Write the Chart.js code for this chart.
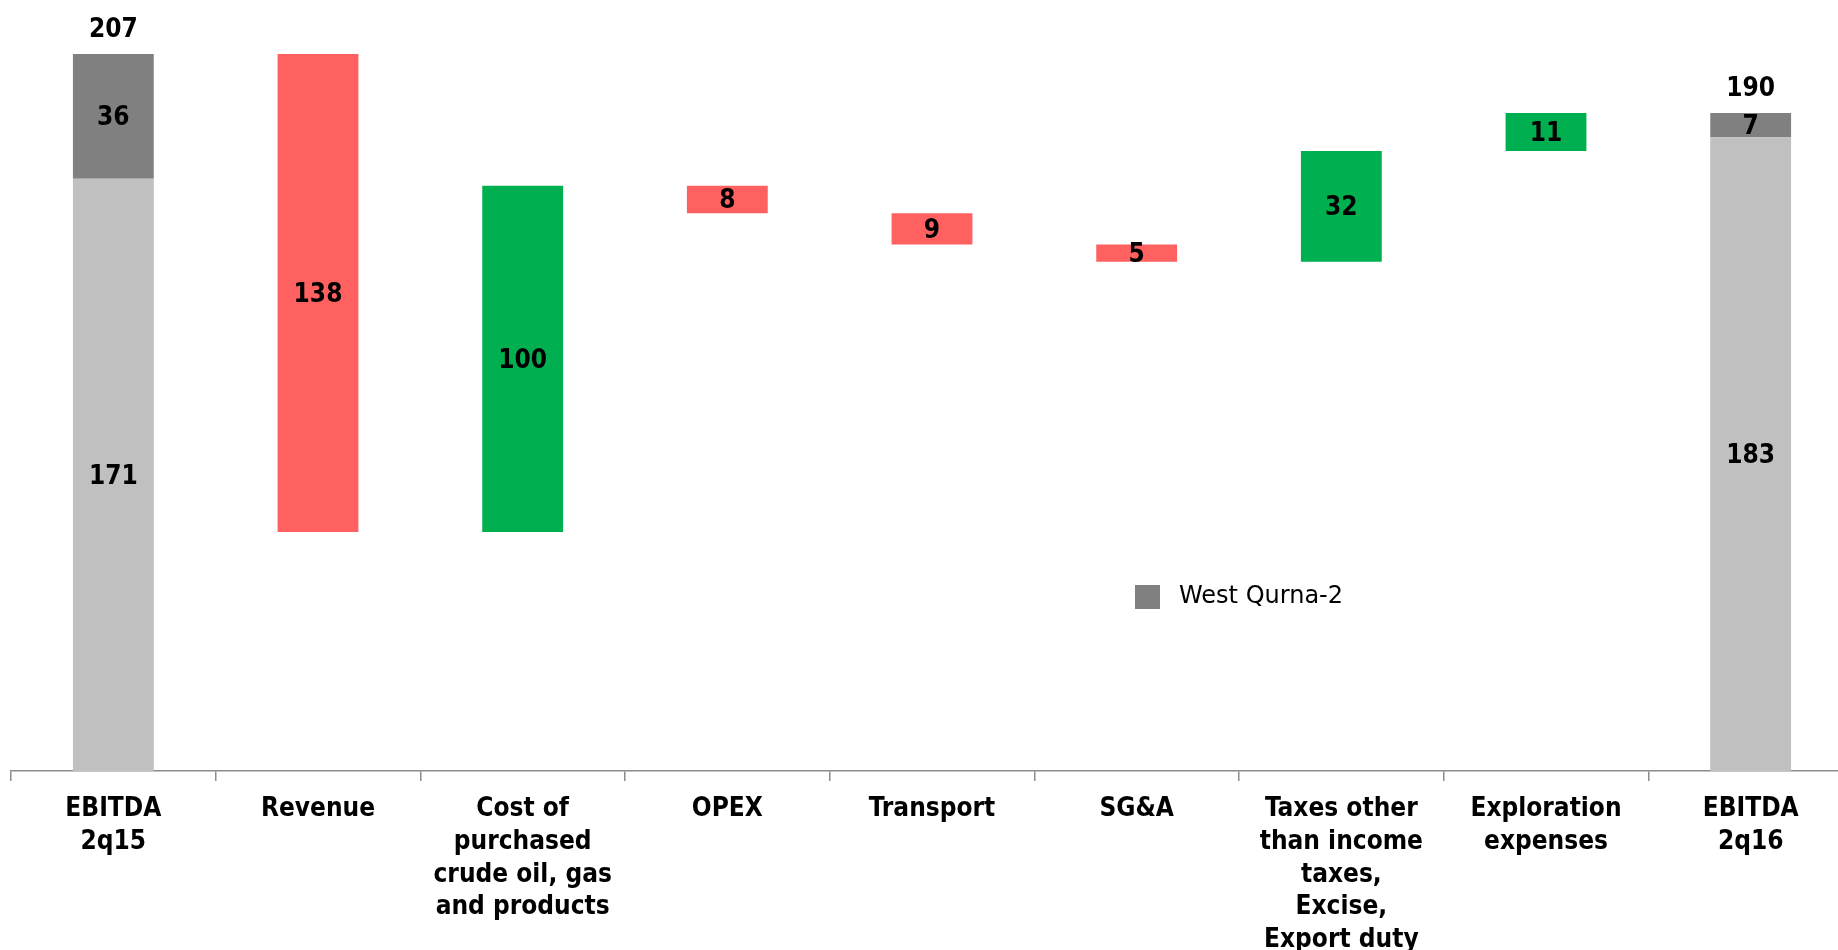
<!DOCTYPE html>
<html>
<head>
<meta charset="utf-8">
<script src="https://cdn.jsdelivr.net/npm/chart.js@4.4.1/dist/chart.umd.min.js"></script>
<style>
  body { margin: 0; background: #fff; overflow: hidden; }
  #wrap { position: absolute; left: 0; top: 0; width: 1860px; height: 950px; }
</style>
</head>
<body>
<div id="wrap"><canvas id="myChart" width="1860" height="950"></canvas></div>
<script>
// datos del grafico
const categorias = [
  ["EBITDA", "2q15"],
  ["Revenue"],
  ["Cost of", "purchased", "crude oil, gas", "and products"],
  ["OPEX"],
  ["Transport"],
  ["SG&A"],
  ["Taxes other", "than income", "taxes,", "Excise,", "Export duty"],
  ["Exploration", "expenses"],
  ["EBITDA", "2q16"]
]
const ebitda_base = [171, null, null, null, null, null, null, null, 183]
const west_qurna = [36, null, null, null, null, null, null, null, 7]
const variaciones = [null, -138, 100, -8, -9, -5, 32, 11, null]
const totales = [207, null, null, null, null, null, null, null, 190]

const fuente = "Tahoma, 'DejaVu Sans Condensed', 'DejaVu Sans', sans-serif"
const fuente_leyenda = "Tahoma, 'DejaVu Sans', sans-serif"

// barras flotantes
var base_barras = ebitda_base.map(v => v == null ? null : [0, v])
var wq_barras = west_qurna.map((v, i) => v == null ? null : [ebitda_base[i], ebitda_base[i] + v])
var nivel = ebitda_base[0] + west_qurna[0]
var var_barras = variaciones.map((v) => {
  if (v == null) return null
  const antes = nivel
  nivel = nivel + v
  return [Math.min(antes, nivel), Math.max(antes, nivel)]
})
var colores_var = variaciones.map(v => v == null ? "rgba(0,0,0,0)" : (v < 0 ? "#FF6161" : "#00B050"))

// etiquetas dentro de las barras
const etiquetas = {
  id: "etiquetas",
  afterDatasetsDraw(chart) {
    const ctx = chart.ctx
    ctx.save()
    ctx.font = "bold 26px " + fuente
    ctx.fillStyle = "#000"
    ctx.textAlign = "center"
    ctx.textBaseline = "middle"
    const valores = [ebitda_base, west_qurna, variaciones.map(v => v == null ? null : Math.abs(v))]
    valores.forEach((serie, d) => {
      const meta = chart.getDatasetMeta(d)
      serie.forEach((v, i) => {
        if (v == null) return
        const el = meta.data[i]
        ctx.fillText(String(v), el.x, (el.y + el.base) / 2 + 2)
      })
    })
    const meta = chart.getDatasetMeta(1)
    totales.forEach((t, i) => {
      if (t == null) return
      const el = meta.data[i]
      ctx.textBaseline = "bottom"
      ctx.fillText(String(t), el.x, chart.scales.y.getPixelForValue(t) - 11)
    })
    ctx.restore()
  }
}

// leyenda solo para West Qurna-2
const leyenda = {
  id: "leyenda",
  afterDraw(chart) {
    const ctx = chart.ctx
    const ds = chart.data.datasets[1]
    ctx.save()
    ctx.fillStyle = ds.backgroundColor
    ctx.fillRect(1135, 585, 25, 24)
    ctx.fillStyle = "#000"
    ctx.font = "24px " + fuente_leyenda
    ctx.textBaseline = "middle"
    ctx.textAlign = "left"
    ctx.fillText(ds.label, 1179, 597)
    ctx.restore()
  }
}

const config = {
  type: "bar",
  data: {
    labels: categorias,
    datasets: [
      { label: "EBITDA", data: base_barras, backgroundColor: "#C0C0C0" },
      { label: "West Qurna-2", data: wq_barras, backgroundColor: "#808080" },
      { label: "Change", data: var_barras, backgroundColor: colores_var }
    ]
  },
  options: {
    responsive: false,
    animation: false,
    grouped: false,
    barPercentage: 0.395,
    categoryPercentage: 1,
    layout: { padding: { left: 11, right: 7, top: 0, bottom: 0 } },
    plugins: { legend: { display: false }, tooltip: { enabled: false } },
    scales: {
      x: {
        grid: { offset: true, drawOnChartArea: false, color: "#8c8c8c", tickLength: 10, lineWidth: 1.5 },
        border: { display: true, color: "#8c8c8c", width: 1.5 },
        ticks: {
          color: "#000",
          padding: 12,
          maxRotation: 0,
          autoSkip: false,
          font: { family: fuente, size: 26, weight: "bold", lineHeight: 1.26 }
        },
        afterFit: (s) => { s.height = 179 }
      },
      y: { display: false, min: 0, max: 222.6 }
    }
  },
  plugins: [etiquetas, leyenda]
}

const myChart = document.getElementById("myChart")
var chart = new Chart(myChart, config)
</script>
</body>
</html>
